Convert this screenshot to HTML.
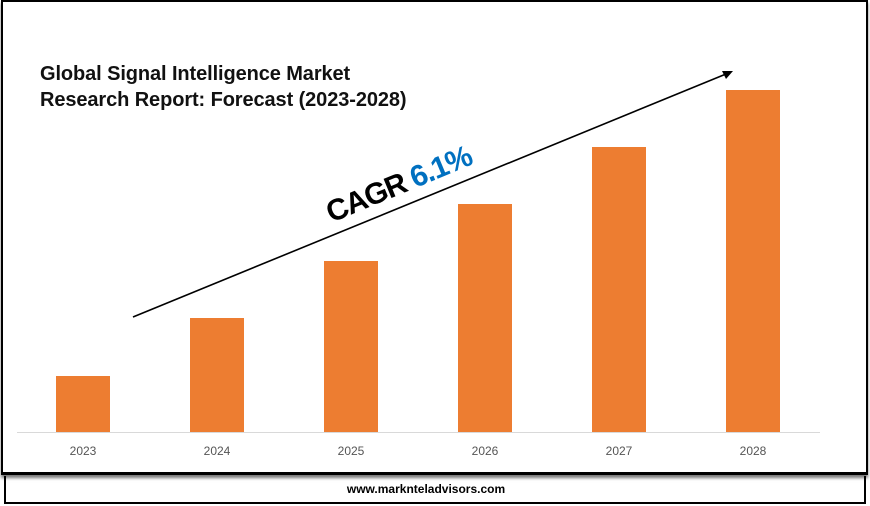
<!DOCTYPE html>
<html><head><style>
body{margin:0;width:870px;height:506px;background:#fff;position:relative;overflow:hidden;font-family:"Liberation Sans",sans-serif}
.box{position:absolute;left:1px;top:0;width:863px;height:470px;border:2px solid #000;border-bottom:3px solid #000;box-shadow:0 3px 3px #777}
.foot{position:absolute;left:4px;top:476px;width:858px;height:26px;border:2px solid #000;border-top:none;text-align:center;font-size:12px;font-weight:bold;line-height:26px;text-indent:-18px}
.t{position:absolute;left:40px;top:61px;font-size:20px;font-weight:bold;line-height:26px;letter-spacing:-0.1px;color:#111}
.bar{position:absolute;width:54px;background:#ed7d31;bottom:74px}
.lab{position:absolute;top:444px;width:80px;text-align:center;font-size:12px;color:#555}
.axis{position:absolute;left:17px;top:432px;width:803px;height:1px;background:#d9d9d9}
.cagr{position:absolute;left:322px;top:168px;font-size:30px;font-weight:bold;letter-spacing:-1.2px;transform:rotate(-22.5deg);transform-origin:center;white-space:nowrap}
</style></head><body>
<div class="box"></div>
<div class="foot">www.marknteladvisors.com</div>
<div class="t">Global Signal Intelligence Market<br>Research Report: Forecast (2023-2028)</div>
<div class="bar" style="left:56px;top:376px"></div>
<div class="bar" style="left:190px;top:318px"></div>
<div class="bar" style="left:324px;top:261px"></div>
<div class="bar" style="left:458px;top:204px"></div>
<div class="bar" style="left:592px;top:147px"></div>
<div class="bar" style="left:726px;top:90px"></div>
<div class="axis"></div>
<div class="lab" style="left:43px">2023</div>
<div class="lab" style="left:177px">2024</div>
<div class="lab" style="left:311px">2025</div>
<div class="lab" style="left:445px">2026</div>
<div class="lab" style="left:579px">2027</div>
<div class="lab" style="left:713px">2028</div>
<svg style="position:absolute;left:0;top:0" width="870" height="506">
<line x1="133" y1="317" x2="726" y2="74" stroke="#000" stroke-width="1.6"/>
<polygon points="733,71 722,71 726,79" fill="#000"/>
</svg>
<div class="cagr">CAGR <span style="color:#0070c0">6.1%</span></div>
</body></html>
